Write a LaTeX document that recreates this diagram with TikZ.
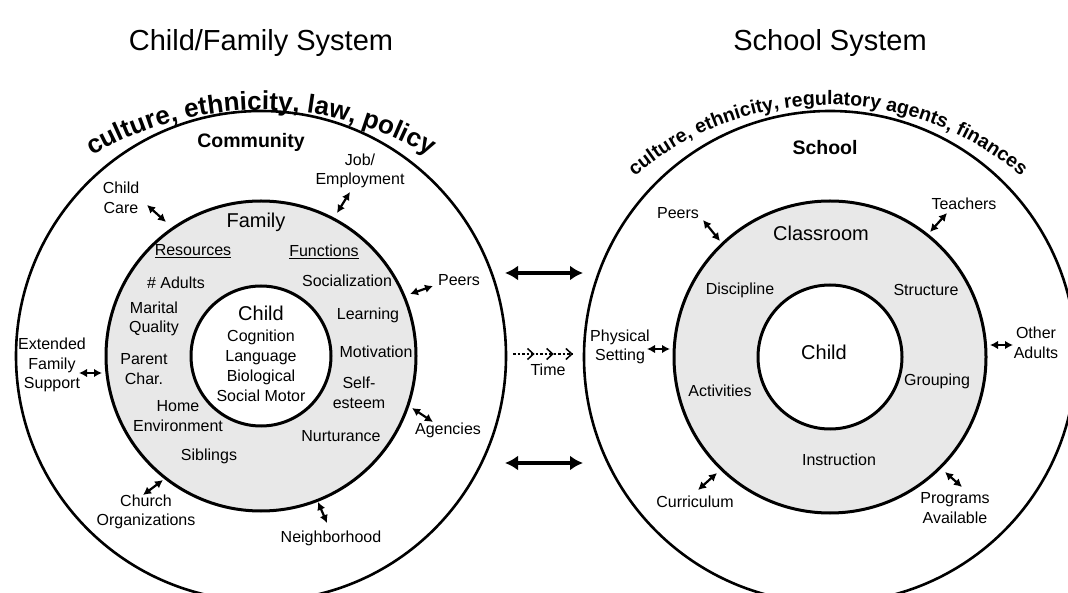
\documentclass[tikz,border=0pt]{standalone}
\usepackage{fontspec}
\setmainfont{Liberation Sans}
\usetikzlibrary{arrows.meta,decorations.text,decorations.markings}
\definecolor{bandgray}{HTML}{E8E8E8}
\tikzset{chevtip/.tip={Straight Barb[length=6pt,width=11pt,line width=1.5pt]}}
\begin{document}
\begin{tikzpicture}[x=1pt,y=1pt,
  ring/.style={line width=2.6pt},
  band/.style={line width=3pt, fill=bandgray},
  core/.style={line width=3pt, fill=white},
  lbl/.style={font=\fontsize{16}{19.5}\selectfont, align=center, inner sep=0pt},
  big/.style={font=\fontsize{20}{24}\selectfont, inner sep=0pt},
  head/.style={font=\bfseries\fontsize{19.5}{23}\selectfont, inner sep=0pt},
  title/.style={font=\fontsize{29}{34}\selectfont, inner sep=0pt},
  link/.style={line width=2.2pt, {Latex[length=8pt,width=8.5pt]}-{Latex[length=8pt,width=8.5pt]}},
  bridge/.style={line width=4pt, {Latex[length=13pt,width=15pt]}-{Latex[length=13pt,width=15pt]}},
]
\clip (0,0) rectangle (1068,592);
\fill[white] (0,0) rectangle (1068,592);

% ---------- centres ----------
\coordinate (L) at (261,236);
\coordinate (R) at (830,235);
\coordinate (arcL) at (261,146);
\coordinate (arcR) at (828,190);

% ---------- titles ----------
\node[title] (tL) at (261,549) {Child/Family System};
\node[title] (tR) at (830,549) {School System};

% ---------- child/family rings ----------
\draw[ring] (L) circle[radius=245];
\draw[band] (L) circle[radius=155];
\draw[core] (L) circle[radius=70];

\path[decorate, decoration={text along path, text align=center,
  text={|\bfseries\fontsize{26}{30}\selectfont|culture, ethnicity, law, policy}}]
  ([shift={(150:336)}]arcL) arc[start angle=150, end angle=30, radius=336];

\node[head] (community) at (251,450) {Community};
\node[lbl] (job) at (360,421) {Job/\\Employment};
\node[lbl] (care) at (121,394) {Child\\Care};
\node[lbl] (ext) at (52,227) {Extended\\Family\\Support};
\node[lbl] (peersL) at (459,312) {Peers};
\node[lbl] (agencies) at (448,162) {Agencies};
\node[lbl] (church) at (146,80) {Church\\Organizations};
\node[lbl] (neigh) at (331,54) {Neighborhood};

\node[big] (family) at (256,370) {Family};
\node[lbl] (res) at (193,341) {\underline{Resources}};
\node[lbl] (fun) at (324,340) {\underline{Functions}};
\node[lbl] (adults) at (176,309) {\# Adults};
\node[lbl] (marital) at (154,273) {Marital\\Quality};
\node[lbl] (parent) at (144,223) {Parent\\Char.};
\node[lbl] (home) at (178,176) {Home\\Environment};
\node[lbl] (sib) at (209,136) {Siblings};
\node[lbl] (soc) at (347,311) {Socialization};
\node[lbl] (learn) at (368,277) {Learning};
\node[lbl] (motiv) at (376,240) {Motivation};
\node[lbl] (self) at (359,199) {Self-\\esteem};
\node[lbl] (nurt) at (341,156) {Nurturance};

\node[lbl, font=\fontsize{16}{20}\selectfont] (childL) at (261,238)
  {{\fontsize{20}{24}\selectfont Child}\\[1pt]Cognition\\Language\\Biological\\Social Motor};

% links between the family ring and the community
\coordinate (careA) at (147,387);  \coordinate (careB) at (166,370);
\coordinate (jobA) at (350,400);   \coordinate (jobB) at (337,379);
\coordinate (peerA) at (410,298);  \coordinate (peerB) at (433,306);
\coordinate (agA) at (412,184);    \coordinate (agB) at (433,170);
\coordinate (extA) at (79,219);    \coordinate (extB) at (102,219);
\coordinate (chA) at (163,112);    \coordinate (chB) at (143,97);
\coordinate (nbA) at (318,90);     \coordinate (nbB) at (327,69);
\draw[link] (careA) -- (careB);
\draw[link] (jobA) -- (jobB);
\draw[link] (peerA) -- (peerB);
\draw[link] (agA) -- (agB);
\draw[link] (extA) -- (extB);
\draw[link] (chA) -- (chB);
\draw[link] (nbA) -- (nbB);

% ---------- school rings ----------
\draw[ring] (R) circle[radius=246];
\draw[band] (R) circle[radius=156];
\draw[core] (R) circle[radius=72];

\path[decorate, decoration={text along path, text align=center,
  text={|\bfseries\fontsize{19.5}{23}\selectfont|culture, ethnicity, regulatory agents, finances}}]
  ([shift={(150:297)}]arcR) arc[start angle=150, end angle=30, radius=297];

\node[head] (school) at (825,444) {School};
\node[big] (classroom) at (821,359) {Classroom};
\node[lbl] (teach) at (964,388) {Teachers};
\node[lbl] (peersR) at (678,379) {Peers};
\node[lbl] (disc) at (740,302) {Discipline};
\node[lbl] (struct) at (926,302) {Structure};
\node[lbl] (phys) at (620,245) {Physical\\Setting};
\node[big] (childR) at (824,240) {Child};
\node[lbl] (other) at (1036,249) {Other\\Adults};
\node[lbl] (group) at (937,211) {Grouping};
\node[lbl] (act) at (720,201) {Activities};
\node[lbl] (instr) at (839,132) {Instruction};
\node[lbl] (curr) at (695,90) {Curriculum};
\node[lbl] (prog) at (955,84) {Programs\\Available};

\coordinate (teA) at (947,379);    \coordinate (teB) at (930,360);
\coordinate (prA) at (703,372);    \coordinate (prB) at (720,351);
\coordinate (phA) at (647,243);    \coordinate (phB) at (670,243);
\coordinate (otA) at (990,247);    \coordinate (otB) at (1013,247);
\coordinate (cuA) at (717,119);    \coordinate (cuB) at (698,102);
\coordinate (pgA) at (945,120);    \coordinate (pgB) at (962,105);
\draw[link] (teA) -- (teB);
\draw[link] (prA) -- (prB);
\draw[link] (phA) -- (phB);
\draw[link] (otA) -- (otB);
\draw[link] (cuA) -- (cuB);
\draw[link] (pgA) -- (pgB);

% ---------- between the two systems ----------
\coordinate (bt1) at (505,319); \coordinate (bt2) at (583,319);
\coordinate (bb1) at (505,129); \coordinate (bb2) at (583,129);
\draw[bridge] (bt1) -- (bt2);
\draw[bridge] (bb1) -- (bb2);

\coordinate (tm1) at (513,238); \coordinate (tm2) at (573,238);
\draw[line width=1.5pt, dash pattern=on 2.5pt off 2pt, postaction={decorate},
  decoration={markings,
    mark=at position 0.36 with {\arrow{chevtip}},
    mark=at position 0.68 with {\arrow{chevtip}},
    mark=at position 1 with {\arrow{chevtip}}}] (tm1) -- (tm2);
\node[lbl] (time) at (548,222) {Time};
\end{tikzpicture}
\end{document}
